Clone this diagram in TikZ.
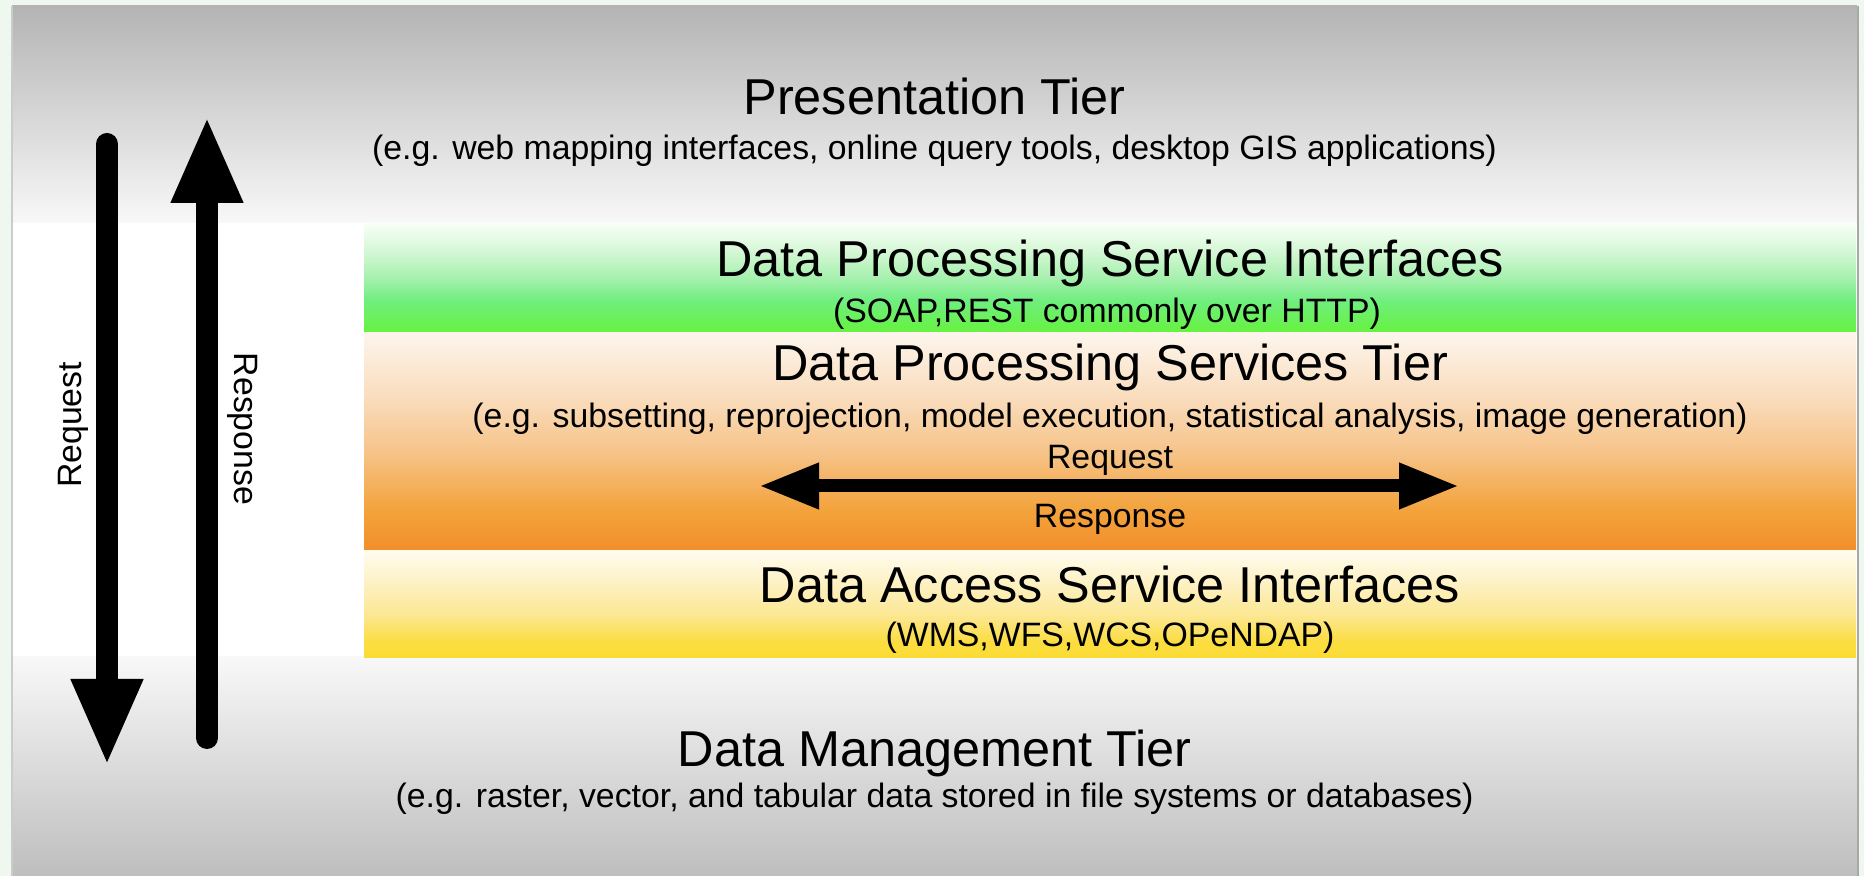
\documentclass[tikz,border=0pt]{standalone}
\usepackage{fontspec}
\setmainfont{Liberation Sans}
\usetikzlibrary{arrows.meta}
\definecolor{outerbg}{HTML}{EFF8EF}
\definecolor{graytop}{HTML}{B4B4B4}
\definecolor{graylight}{HTML}{F8F8F8}
\definecolor{graybot}{HTML}{BEBEBE}
\definecolor{edgeline}{HTML}{A8A8A8}
\definecolor{gr1}{HTML}{F8FFF8}
\definecolor{gr2}{HTML}{D6F7D6}
\definecolor{gr3}{HTML}{A6F0AE}
\definecolor{gr4}{HTML}{70EE80}
\definecolor{gr5}{HTML}{66F23E}
\definecolor{or1}{HTML}{FDF5EC}
\definecolor{or2}{HTML}{F9DCBC}
\definecolor{or3}{HTML}{F6C388}
\definecolor{or4}{HTML}{F3A43E}
\definecolor{or5}{HTML}{F28E2A}
\definecolor{ye1}{HTML}{FEFCEE}
\definecolor{ye2}{HTML}{FDF1C4}
\definecolor{ye3}{HTML}{FCE792}
\definecolor{ye4}{HTML}{FBDD40}
\definecolor{ye5}{HTML}{FBDC34}
\pgfdeclareverticalshading{greenband}{100bp}{color(0bp)=(gr5); color(25bp)=(gr5); color(40bp)=(gr4); color(50bp)=(gr3); color(62.5bp)=(gr2); color(75bp)=(gr1); color(100bp)=(gr1)}
\pgfdeclareverticalshading{orangeband}{100bp}{color(0bp)=(or5); color(25bp)=(or5); color(35bp)=(or4); color(47.5bp)=(or3); color(60bp)=(or2); color(75bp)=(or1); color(100bp)=(or1)}
\pgfdeclareverticalshading{yellowband}{100bp}{color(0bp)=(ye5); color(25bp)=(ye5); color(32.5bp)=(ye4); color(45bp)=(ye3); color(60bp)=(ye2); color(75bp)=(ye1); color(100bp)=(ye1)}
\tikzset{
  titletext/.style={font=\fontsize{25.2}{30}\selectfont, inner sep=0pt, anchor=base},
  subtext/.style={font=\fontsize{16.9}{20}\selectfont, inner sep=0pt, anchor=base},
  sidetext/.style={font=\fontsize{16.9}{20}\selectfont, inner sep=0pt, anchor=center},
  bigarrow/.style={line width=11pt, line cap=round, -{Triangle[width=33pt,length=43.5pt]}},
  midarrow/.style={line width=6.5pt, {Triangle[width=21.5pt,length=30pt]}-{Triangle[width=21.5pt,length=30pt]}}
}
\begin{document}
\begin{tikzpicture}[x=0.5pt,y=-0.5pt]
\useasboundingbox (0,0) rectangle (1864,876);
% background and panel
\fill[outerbg] (0,0) rectangle (1864,876);
\shade[top color=graytop, bottom color=graylight] (12,6) rectangle (1857,223);
\fill[white] (12,223) rectangle (1857,657);
\shade[top color=graylight, bottom color=graybot] (12,657) rectangle (1857,876);
\draw[edgeline, line width=1pt] (1857.5,6) -- (1857.5,876);
\draw[edgeline!60, line width=0.6pt] (12,6) -- (12,876);
% bands
\shade[shading=greenband] (364,223) rectangle (1856,333);
\shade[shading=orangeband] (364,333) rectangle (1856,551);
\shade[shading=yellowband] (364,551) rectangle (1856,658);
% texts
\node[titletext] (pres) at (934.5,115) {Presentation Tier};
\node[subtext] (presSub) at (934.5,160) {(e.g. web mapping interfaces, online query tools, desktop GIS applications)};
\node[titletext] (dpsi) at (1110,277) {Data Processing Service Interfaces};
\node[subtext] (dpsiSub) at (1107,323) {(SOAP,REST commonly over HTTP)};
\node[titletext] (dpst) at (1110,381) {Data Processing Services Tier};
\node[subtext] (dpstSub) at (1110,428) {(e.g. subsetting, reprojection, model execution, statistical analysis, image generation)};
\node[subtext] (midReq) at (1110,469) {Request};
\node[subtext] (midResp) at (1110,528) {Response};
\node[titletext] (dasi) at (1110,603) {Data Access Service Interfaces};
\node[subtext] (dasiSub) at (1110,647) {(WMS,WFS,WCS,OPeNDAP)};
\node[titletext] (dmt) at (934.5,767) {Data Management Tier};
\node[subtext] (dmtSub) at (934.5,807) {(e.g. raster, vector, and tabular data stored in file systems or databases)};
% side labels
\node[sidetext, rotate=90] (sideReq) at (73,425) {Request};
\node[sidetext, rotate=-90] (sideResp) at (243,429) {Response};
% arrows
\coordinate (reqTop) at (107,144);
\coordinate (reqTip) at (107,766);
\coordinate (respBot) at (207,738);
\coordinate (respTip) at (207,116);
\coordinate (midL) at (759,486);
\coordinate (midR) at (1459,486);
\draw[bigarrow] (reqTop) -- (reqTip);
\draw[bigarrow] (respBot) -- (respTip);
\draw[midarrow] (midL) -- (midR);
\end{tikzpicture}
\end{document}
